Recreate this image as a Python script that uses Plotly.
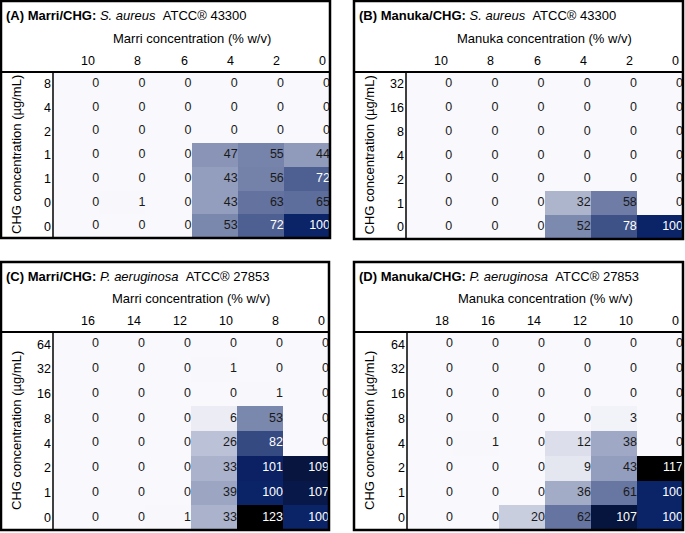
import plotly.graph_objects as go

W, H = 685, 533
FONT = "Liberation Sans, Arial, sans-serif"

# ---- data ----
panel_tags = ["(A)", "(B)", "(C)", "(D)"]
agents = ["Marri", "Manuka", "Marri", "Manuka"]
organisms = ["S. aureus", "S. aureus", "P. aeruginosa", "P. aeruginosa"]
strains = ["ATCC® 43300", "ATCC® 43300", "ATCC® 27853", "ATCC® 27853"]

a_cols = ["10", "8", "6", "4", "2", "0"]
a_rows = ["8", "4", "2", "1", "1", "0", "0"]
a_vals = [
    [0, 0, 0, 0, 0, 0],
    [0, 0, 0, 0, 0, 0],
    [0, 0, 0, 0, 0, 0],
    [0, 0, 0, 47, 55, 44],
    [0, 0, 0, 43, 56, 72],
    [0, 1, 0, 43, 63, 65],
    [0, 0, 0, 53, 72, 100],
]

b_cols = ["10", "8", "6", "4", "2", "0"]
b_rows = ["32", "16", "8", "4", "2", "1", "0"]
b_vals = [
    [0, 0, 0, 0, 0, 0],
    [0, 0, 0, 0, 0, 0],
    [0, 0, 0, 0, 0, 0],
    [0, 0, 0, 0, 0, 0],
    [0, 0, 0, 0, 0, 0],
    [0, 0, 0, 32, 58, 0],
    [0, 0, 0, 52, 78, 100],
]

c_cols = ["16", "14", "12", "10", "8", "0"]
c_rows = ["64", "32", "16", "8", "4", "2", "1", "0"]
c_vals = [
    [0, 0, 0, 0, 0, 0],
    [0, 0, 0, 1, 0, 0],
    [0, 0, 0, 0, 1, 0],
    [0, 0, 0, 6, 53, 0],
    [0, 0, 0, 26, 82, 0],
    [0, 0, 0, 33, 101, 109],
    [0, 0, 0, 39, 100, 107],
    [0, 0, 1, 33, 123, 100],
]

d_cols = ["18", "16", "14", "12", "10", "0"]
d_rows = ["64", "32", "16", "8", "4", "2", "1", "0"]
d_vals = [
    [0, 0, 0, 0, 0, 0],
    [0, 0, 0, 0, 0, 0],
    [0, 0, 0, 0, 0, 0],
    [0, 0, 0, 0, 3, 0],
    [0, 1, 0, 12, 38, 0],
    [0, 0, 0, 9, 43, 117],
    [0, 0, 0, 36, 61, 100],
    [0, 0, 20, 62, 107, 100],
]

panels = [
    (a_cols, a_rows, a_vals),
    (b_cols, b_rows, b_vals),
    (c_cols, c_rows, c_vals),
    (d_cols, d_rows, d_vals),
]

# ---- layout boxes in pixels: outer box, data area ----
boxes = [
    dict(x0=1, y0=1, x1=330, y1=238, dx=53, dy=72),
    dict(x0=354, y0=1, x1=683, y1=239, dx=406, dy=72),
    dict(x0=1, y0=262, x1=329, y1=530, dx=53, dy=332),
    dict(x0=354, y0=262, x1=683, y1=530, dx=407, dy=332),
]

WHITE = "#f9f9fd"
NAVY = "#0b2367"
BLACK = "#000000"


def px(x):
    return x / W


def py(y):
    return 1 - y / H


def colorscale(zmax):
    if zmax <= 100:
        return [[0, WHITE], [1, NAVY]]
    return [[0, WHITE], [100 / zmax, NAVY], [1, BLACK]]


fig = go.Figure()
shapes = []
annotations = []
layout = {}

for i, ((cols, rows, vals), box) in enumerate(zip(panels, boxes)):
    n = i + 1
    xa = "x" if n == 1 else f"x{n}"
    ya = "y" if n == 1 else f"y{n}"
    zmax = max(max(r) for r in vals)
    ncol = len(cols)
    nrow = len(rows)

    fig.add_trace(go.Heatmap(
        z=vals, x=list(range(ncol)), y=list(range(nrow)),
        colorscale=colorscale(zmax), zmin=0, zmax=zmax,
        showscale=False, xgap=0, ygap=0, hoverinfo="skip",
        xaxis=xa, yaxis=ya,
    ))

    tx, ty, tt, tc = [], [], [], []
    for r, row in enumerate(vals):
        for c, v in enumerate(row):
            tx.append(c + 0.5)
            ty.append(r)
            tt.append(str(v))
            tc.append("white" if v >= 70 else "#1a1a1a")
    fig.add_trace(go.Scatter(
        x=tx, y=ty, text=tt, mode="text", textposition="middle left",
        textfont=dict(family=FONT, size=12.5, color=tc),
        hoverinfo="skip", showlegend=False, xaxis=xa, yaxis=ya,
    ))

    layout["xaxis" if n == 1 else f"xaxis{n}"] = dict(
        domain=[px(box["dx"]), px(box["x1"])], range=[-0.5, ncol - 0.5],
        showgrid=False, zeroline=False, showticklabels=False, anchor=ya,
        fixedrange=True,
    )
    layout["yaxis" if n == 1 else f"yaxis{n}"] = dict(
        domain=[py(box["y1"]), py(box["dy"])], range=[nrow - 0.5, -0.5],
        showgrid=False, zeroline=False, anchor=xa,
        tickvals=list(range(nrow)), ticktext=rows, ticks="",
        ticklabelstandoff=1,
        tickfont=dict(family=FONT, size=12.5, color="black"), fixedrange=True,
    )

    # column labels, right aligned in each column
    for c, lab in enumerate(cols):
        annotations.append(dict(
            x=c + 0.5, xref=xa, y=py(box["dy"] - 11), yref="paper",
            text=lab, showarrow=False, xanchor="right", yanchor="middle",
            xshift=-2, font=dict(family=FONT, size=12.5, color="black"),
        ))

    # headers
    annotations.append(dict(
        x=px(box["x0"] + 3), y=py(box["y0"] + 14), xref="paper", yref="paper",
        text=f"<b>{panel_tags[i]} {agents[i]}/CHG:</b> <i>{organisms[i]}</i>&nbsp;&nbsp;{strains[i]}",
        showarrow=False, xanchor="left", yanchor="middle",
        font=dict(family=FONT, size=13, color="black"),
    ))
    annotations.append(dict(
        x=px((box["dx"] + box["x1"]) / 2), y=py(box["y0"] + 37 if i < 2 else box["y0"] + 36),
        xref="paper", yref="paper",
        text=f"{agents[i]} concentration (% w/v)", showarrow=False,
        xanchor="center", yanchor="middle",
        font=dict(family=FONT, size=13, color="black"),
    ))
    annotations.append(dict(
        x=px(box["x0"] + 15), y=py((box["dy"] + box["y1"]) / 2),
        xref="paper", yref="paper", textangle=-90,
        text="CHG concentration (µg/mL)", showarrow=False,
        xanchor="center", yanchor="middle",
        font=dict(family=FONT, size=13, color="black"),
    ))

    # borders
    shapes.append(dict(type="line", xref="paper", yref="paper",
                       x0=px(box["x0"]), x1=px(box["x1"]), y0=py(box["dy"]), y1=py(box["dy"]),
                       line=dict(color="black", width=2)))
    shapes.append(dict(type="line", xref="paper", yref="paper",
                       x0=px(box["dx"]), x1=px(box["dx"]), y0=py(box["dy"]), y1=py(box["y1"]),
                       line=dict(color="black", width=1.5)))
    shapes.append(dict(type="rect", xref="paper", yref="paper",
                       x0=px(box["x0"]), x1=px(box["x1"]), y0=py(box["y1"]), y1=py(box["y0"]),
                       line=dict(color="black", width=2.5), layer="above"))

fig.update_layout(
    width=W, height=H, margin=dict(l=0, r=0, t=0, b=0),
    paper_bgcolor="white", plot_bgcolor="white", showlegend=False,
    shapes=shapes, annotations=annotations, **layout,
)

fig.write_html(
    "out.html", config={"displayModeBar": False},
    post_script="document.body.style.margin='0';document.body.style.overflow='hidden';",
)
